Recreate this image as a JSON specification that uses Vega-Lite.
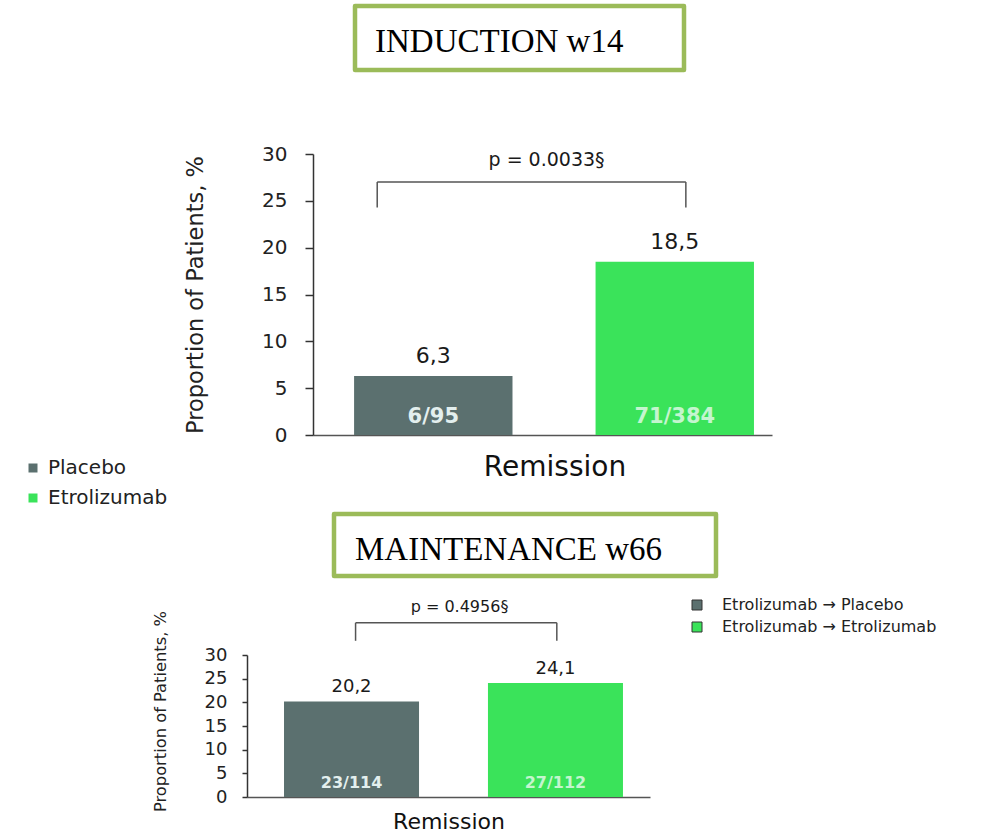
{
  "$schema": "https://vega.github.io/schema/vega-lite/v6.json",
  "padding": 0,
  "autosize": {"type": "pad"},
  "background": "white",
  "config": {"view": {"stroke": null}, "font": "DejaVu Sans"},
  "datasets": {
    "induction": [
      {"group": "Placebo", "pct": 6.3, "pctLabel": "6,3", "ratio": "6/95"},
      {"group": "Etrolizumab", "pct": 18.5, "pctLabel": "18,5", "ratio": "71/384"}
    ],
    "maintenance": [
      {"group": "Etrolizumab → Placebo", "pct": 20.2, "pctLabel": "20,2", "ratio": "23/114"},
      {"group": "Etrolizumab → Etrolizumab", "pct": 24.1, "pctLabel": "24,1", "ratio": "27/112"}
    ],
    "bracket1": [
      {"from": "Placebo", "to": "Etrolizumab", "top": 27.0, "bottom": 24.3, "textY": 29.4, "p": "p = 0.0033§"}
    ],
    "bracket2": [
      {"from": "Etrolizumab → Placebo", "to": "Etrolizumab → Etrolizumab", "top": 36.8, "bottom": 33.0, "textY": 40.2, "p": "p = 0.4956§"}
    ],
    "none": []
  },
  "bounds": "full",
  "spacing": 0,
  "resolve": {"scale": {"color": "independent", "x": "independent", "y": "independent"}, "legend": {"color": "independent"}},
  "vconcat": [
    {"width": 1001, "height": 3, "data": {"name": "none"}, "mark": {"type": "text", "text": ""}},
    {
      "hconcat": [
        {"width": 355, "height": 138, "data": {"name": "none"}, "mark": {"type": "text", "text": ""}},
        {
          "width": 329, "height": 64,
          "view": {"stroke": "#9bbb59", "strokeWidth": 4.5, "fill": "white", "strokeJoin": "round"},
          "data": {"name": "none"},
          "mark": {"type": "text", "text": ""},
          "title": {"text": "INDUCTION w14", "orient": "top", "anchor": "start", "frame": "group", "offset": -79, "baseline": "alphabetic", "dx": 20, "font": "Liberation Serif", "fontSize": 33, "fontWeight": "normal", "color": "#000000"}
        }
      ],
      "bounds": "flush", "spacing": 0
    },
    {
      "hconcat": [
        {"width": 313, "height": 357, "data": {"name": "none"}, "mark": {"type": "text", "text": ""}},
        {
          "width": 459, "height": 281,
          "layer": [
            {
              "data": {"name": "induction"},
              "mark": {"type": "bar"},
              "encoding": {
                "x": {"field": "group", "type": "nominal", "title": "Remission",
                  "scale": {"domain": ["Placebo", "Etrolizumab"], "paddingInner": 0.344, "paddingOuter": 0.1224, "align": 0.695},
                  "axis": {"labels": false, "ticks": false, "domainColor": "#555555", "domainWidth": 1.5, "titleFontSize": 28, "titleFontWeight": "normal", "titleColor": "#111111", "titlePadding": 18, "titleX": 241.5}},
                "y": {"field": "pct", "type": "quantitative", "title": "Proportion of Patients, %",
                  "scale": {"domain": [0, 30], "nice": false},
                  "axis": {"values": [0, 5, 10, 15, 20, 25, 30], "tickCount": 7, "labelOverlap": false, "grid": false, "domainColor": "#333333", "domainWidth": 1.5, "tickColor": "#333333", "tickWidth": 1.5, "tickSize": 8, "labelFontSize": 20, "labelColor": "#222222", "labelPadding": 18, "titleFontSize": 22.5, "titleFontWeight": "normal", "titleColor": "#222222", "titlePadding": 54}},
                "color": {"field": "group", "type": "nominal",
                  "scale": {"domain": ["Placebo", "Etrolizumab"], "range": ["#5b706f", "#3ae35a"]},
                  "legend": {"title": null, "orient": "none", "legendX": -290, "legendY": 304, "symbolType": "square", "symbolSize": 81, "symbolStrokeWidth": 0, "labelFontSize": 20, "labelColor": "#222222", "labelOffset": 5, "rowPadding": 10, "padding": 0, "labelLimit": 400}}
              }
            },
            {
              "data": {"name": "induction"},
              "mark": {"type": "text", "fontSize": 22, "baseline": "alphabetic", "dy": -13, "color": "#1a1a1a"},
              "encoding": {
                "x": {"field": "group", "type": "nominal", "title": "Remission"},
                "y": {"field": "pct", "type": "quantitative", "title": "Proportion of Patients, %"},
                "text": {"field": "pctLabel"}
              }
            },
            {
              "data": {"name": "induction"},
              "mark": {"type": "text", "fontSize": 21, "fontWeight": "bold", "baseline": "alphabetic", "dy": -12},
              "encoding": {
                "x": {"field": "group", "type": "nominal", "title": "Remission"},
                "y": {"datum": 0, "title": "Proportion of Patients, %"},
                "text": {"field": "ratio"},
                "color": {"condition": {"test": "datum.group === 'Placebo'", "value": "#e3efee"}, "value": "#c4f5cf"}
              }
            },
            {
              "data": {"name": "bracket1"},
              "mark": {"type": "rule", "color": "#555555", "strokeWidth": 1.5},
              "encoding": {
                "x": {"field": "from", "type": "nominal", "bandPosition": 0.146, "title": "Remission"},
                "x2": {"field": "to", "bandPosition": 0.57},
                "y": {"field": "top", "type": "quantitative", "title": "Proportion of Patients, %"}
              }
            },
            {
              "data": {"name": "bracket1"},
              "mark": {"type": "rule", "color": "#555555", "strokeWidth": 1.5},
              "encoding": {
                "x": {"field": "from", "type": "nominal", "bandPosition": 0.146, "title": "Remission"},
                "y": {"field": "top", "type": "quantitative", "title": "Proportion of Patients, %"},
                "y2": {"field": "bottom"}
              }
            },
            {
              "data": {"name": "bracket1"},
              "mark": {"type": "rule", "color": "#555555", "strokeWidth": 1.5},
              "encoding": {
                "x": {"field": "to", "type": "nominal", "bandPosition": 0.57, "title": "Remission"},
                "y": {"field": "top", "type": "quantitative", "title": "Proportion of Patients, %"},
                "y2": {"field": "bottom"}
              }
            },
            {
              "data": {"name": "bracket1"},
              "mark": {"type": "text", "fontSize": 19, "baseline": "middle", "color": "#1a1a1a"},
              "encoding": {
                "x": {"field": "from", "type": "nominal", "bandPosition": 1.215, "title": "Remission"},
                "y": {"field": "textY", "type": "quantitative", "title": "Proportion of Patients, %"},
                "text": {"field": "p"}
              }
            }
          ]
        }
      ],
      "bounds": "flush", "spacing": 0,
      "resolve": {"scale": {"color": "independent"}, "legend": {"color": "independent"}}
    },
    {
      "hconcat": [
        {"width": 334, "height": 83, "data": {"name": "none"}, "mark": {"type": "text", "text": ""}},
        {
          "width": 382, "height": 62,
          "view": {"stroke": "#9bbb59", "strokeWidth": 4.5, "fill": "white", "strokeJoin": "round"},
          "data": {"name": "none"},
          "mark": {"type": "text", "text": ""},
          "title": {"text": "MAINTENANCE w66", "orient": "top", "anchor": "start", "frame": "group", "offset": -79, "baseline": "alphabetic", "dx": 21, "font": "Liberation Serif", "fontSize": 33, "fontWeight": "normal", "color": "#000000"}
        }
      ],
      "bounds": "flush", "spacing": 0
    },
    {
      "hconcat": [
        {"width": 247, "height": 179, "data": {"name": "none"}, "mark": {"type": "text", "text": ""}},
        {
          "width": 403, "height": 142,
          "layer": [
            {
              "data": {"name": "maintenance"},
              "mark": {"type": "bar"},
              "encoding": {
                "x": {"field": "group", "type": "nominal", "title": "Remission",
                  "scale": {"domain": ["Etrolizumab → Placebo", "Etrolizumab → Etrolizumab"], "paddingInner": 0.338, "paddingOuter": 0.157, "align": 0.578},
                  "axis": {"labels": false, "ticks": false, "domainColor": "#555555", "domainWidth": 1.5, "titleFontSize": 22, "titleFontWeight": "normal", "titleColor": "#111111", "titlePadding": 14}},
                "y": {"field": "pct", "type": "quantitative", "title": "Proportion of Patients, %",
                  "scale": {"domain": [0, 30], "nice": false},
                  "axis": {"values": [0, 5, 10, 15, 20, 25, 30], "tickCount": 7, "labelOverlap": false, "grid": false, "domainColor": "#333333", "domainWidth": 1.5, "tickColor": "#333333", "tickWidth": 1.5, "tickSize": 5, "labelFontSize": 18, "labelColor": "#222222", "labelPadding": 15, "titleFontSize": 16.3, "titleFontWeight": "normal", "titleColor": "#222222", "titlePadding": 36, "titleY": 56}},
                "color": {"field": "group", "type": "nominal",
                  "scale": {"domain": ["Etrolizumab → Placebo", "Etrolizumab → Etrolizumab"], "range": ["#5b706f", "#3ae35a"]},
                  "legend": {"title": null, "orient": "none", "legendX": 442, "legendY": -58, "symbolType": "square", "symbolSize": 100, "symbolStrokeColor": "#333333", "symbolStrokeWidth": 1, "labelFontSize": 16, "labelColor": "#222222", "labelOffset": 17, "rowPadding": 6, "padding": 0, "labelLimit": 400}}
              }
            },
            {
              "data": {"name": "maintenance"},
              "mark": {"type": "text", "fontSize": 18, "baseline": "alphabetic", "dy": -9, "color": "#1a1a1a"},
              "encoding": {
                "x": {"field": "group", "type": "nominal", "title": "Remission"},
                "y": {"field": "pct", "type": "quantitative", "title": "Proportion of Patients, %"},
                "text": {"field": "pctLabel"}
              }
            },
            {
              "data": {"name": "maintenance"},
              "mark": {"type": "text", "fontSize": 16, "fontWeight": "bold", "baseline": "alphabetic", "dy": -9},
              "encoding": {
                "x": {"field": "group", "type": "nominal", "title": "Remission"},
                "y": {"datum": 0, "title": "Proportion of Patients, %"},
                "text": {"field": "ratio"},
                "color": {"condition": {"test": "datum.group === 'Etrolizumab → Placebo'", "value": "#e3efee"}, "value": "#c4f5cf"}
              }
            },
            {
              "data": {"name": "bracket2"},
              "mark": {"type": "rule", "color": "#555555", "strokeWidth": 1.5},
              "encoding": {
                "x": {"field": "from", "type": "nominal", "bandPosition": 0.53, "title": "Remission"},
                "x2": {"field": "to", "bandPosition": 0.51},
                "y": {"field": "top", "type": "quantitative", "title": "Proportion of Patients, %"}
              }
            },
            {
              "data": {"name": "bracket2"},
              "mark": {"type": "rule", "color": "#555555", "strokeWidth": 1.5},
              "encoding": {
                "x": {"field": "from", "type": "nominal", "bandPosition": 0.53, "title": "Remission"},
                "y": {"field": "top", "type": "quantitative", "title": "Proportion of Patients, %"},
                "y2": {"field": "bottom"}
              }
            },
            {
              "data": {"name": "bracket2"},
              "mark": {"type": "rule", "color": "#555555", "strokeWidth": 1.5},
              "encoding": {
                "x": {"field": "to", "type": "nominal", "bandPosition": 0.51, "title": "Remission"},
                "y": {"field": "top", "type": "quantitative", "title": "Proportion of Patients, %"},
                "y2": {"field": "bottom"}
              }
            },
            {
              "data": {"name": "bracket2"},
              "mark": {"type": "text", "fontSize": 16, "baseline": "middle", "color": "#1a1a1a"},
              "encoding": {
                "x": {"field": "from", "type": "nominal", "bandPosition": 1.30, "title": "Remission"},
                "y": {"field": "textY", "type": "quantitative", "title": "Proportion of Patients, %"},
                "text": {"field": "p"}
              }
            }
          ]
        }
      ],
      "bounds": "flush", "spacing": 0,
      "resolve": {"scale": {"color": "independent"}, "legend": {"color": "independent"}}
    }
  ]
}
